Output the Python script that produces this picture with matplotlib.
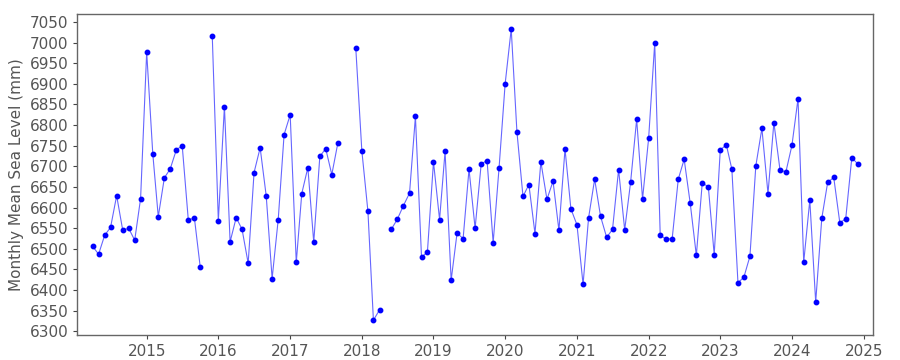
import numpy as np
import pandas as pd
import matplotlib
matplotlib.use('Agg')
import matplotlib.pyplot as plt
from matplotlib.ticker import MultipleLocator
import matplotlib.dates as mdates

# monthly mean sea level, Apr 2014 - Dec 2024 (nan = missing month)
start_month = '2014-04-01'
end_month = '2024-12-01'
sea_level_mm = [
    6506, 6487, 6533, 6552, 6629, 6545, 6550, 6521, 6622,            # 2014 Apr-Dec
    6977, 6731, 6578, 6672, 6694, 6740, 6750, 6570, 6575, 6455, np.nan, 7017,  # 2015
    6568, 6845, 6517, 6576, 6547, 6465, 6685, 6745, 6628, 6428, 6571, 6777,   # 2016
    6825, 6467, 6634, 6697, 6516, 6724, 6743, 6680, 6757, np.nan, np.nan, 6988,  # 2017
    6738, 6591, 6327, 6352, np.nan, 6548, 6572, 6605, 6635, 6821, 6480, 6492,  # 2018
    6711, 6571, 6736, 6424, 6538, 6525, 6693, 6550, 6706, 6714, 6515, 6696,   # 2019
    6900, 7033, 6784, 6627, 6656, 6537, 6711, 6620, 6664, 6545, 6742, 6597,   # 2020
    6558, 6414, 6575, 6669, 6579, 6528, 6547, 6692, 6546, 6661, 6814, 6621,   # 2021
    6768, 6999, 6533, 6523, 6525, 6669, 6717, 6610, 6484, 6659, 6651, 6486,   # 2022
    6740, 6752, 6693, 6418, 6431, 6482, 6701, 6792, 6634, 6806, 6692, 6686,   # 2023
    6751, 6864, 6468, 6618, 6371, 6574, 6661, 6673, 6563, 6573, 6721, 6706,   # 2024
]

dates = pd.date_range(start_month, end_month, freq='MS')

plt.rcParams['font.family'] = ['DejaVu Sans']
fig = plt.figure(figsize=(9, 3.6), dpi=100)
ax = fig.add_axes([0.086, 0.07, 0.884, 0.89])

ax.plot(dates, sea_level_mm, color='#0000ff', alpha=0.6, linewidth=0.8)
ax.plot(dates, sea_level_mm, linestyle='none', marker='o', markersize=3.2,
        color='#0000ff')

ax.margins(x=0.02, y=0.05)
ax.yaxis.set_major_locator(MultipleLocator(50))
ax.xaxis.set_major_locator(mdates.YearLocator())
ax.xaxis.set_major_formatter(mdates.DateFormatter('%Y'))
ax.set_ylabel('Monthly Mean Sea Level (mm)', fontsize=11, color='#555555')
ax.tick_params(labelsize=11, labelcolor='#555555', color='#444444', length=3, width=0.8)
for s in ax.spines.values():
    s.set_color('#666666')
    s.set_linewidth(1.0)

fig.savefig('out.png', dpi=100)
